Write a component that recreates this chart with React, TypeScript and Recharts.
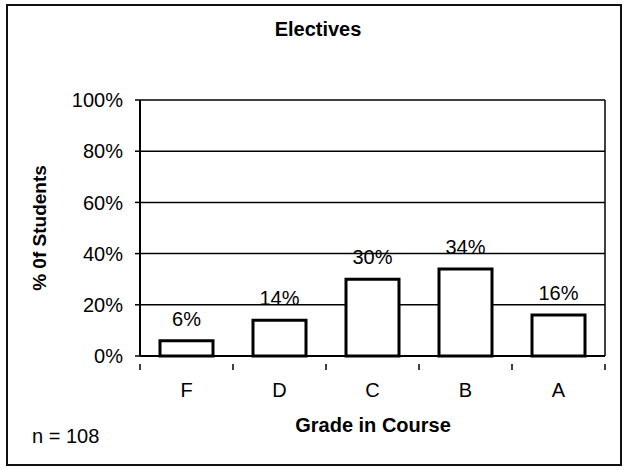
import { Bar, BarChart, CartesianGrid, LabelList, XAxis, YAxis } from "recharts";

const grades = ["F", "D", "C", "B", "A"];
const percentStudents = [6, 14, 30, 34, 16];
const yTicks = [0, 20, 40, 60, 80, 100];

const data = grades.map((grade, i) => ({ grade, pct: percentStudents[i] }));

const FONT = "Arial, 'Liberation Sans', sans-serif";
const W = 626;
const H = 470;
const PLOT_LEFT = 140;
const PLOT_RIGHT = 21;
const BAND = (W - PLOT_LEFT - PLOT_RIGHT) / grades.length;

// category label at band centre, tick marks on band boundaries
const GradeTick = (props: any) => {
  const { x, y, payload, index } = props;
  const left = x - BAND / 2;
  return (
    <g>
      <line x1={left} y1={y} x2={left} y2={y + 6} stroke="#000" strokeWidth={1.5} />
      {index === grades.length - 1 && (
        <line x1={x + BAND / 2} y1={y} x2={x + BAND / 2} y2={y + 6} stroke="#000" strokeWidth={1.5} />
      )}
      <text x={x} y={y + 33} textAnchor="middle" fontSize={20} fontFamily={FONT} fill="#000">
        {payload.value}
      </text>
    </g>
  );
};

export default function App() {
  return (
    <div style={{ position: "absolute", left: 0, top: 0, width: W, height: H, background: "#fff", fontFamily: FONT }}>
      <div
        style={{
          position: "absolute",
          left: 6,
          top: 4,
          width: 612,
          height: 458,
          border: "2px solid #111",
        }}
      />
      <div style={{ position: "absolute", left: 0, width: W, top: 18, textAlign: "center", paddingLeft: 10, boxSizing: "border-box", fontWeight: "bold", fontSize: 20 }}>
        Electives
      </div>
      <div
        style={{
          position: "absolute",
          left: 40,
          top: 228,
          transform: "translate(-50%, -50%) rotate(-90deg)",
          whiteSpace: "nowrap",
          fontWeight: "bold",
          fontSize: 19,
        }}
      >
        % 0f Students
      </div>
      <div style={{ position: "absolute", left: 373, top: 425, transform: "translate(-50%, -50%)", whiteSpace: "nowrap", fontWeight: "bold", fontSize: 20 }}>
        Grade in Course
      </div>
      <div style={{ position: "absolute", left: 32, top: 425, whiteSpace: "nowrap", fontSize: 20 }}>n = 108</div>
      <div style={{ position: "absolute", left: 0, top: 0 }}>
        <BarChart width={W} height={H} data={data} margin={{ top: 100, right: PLOT_RIGHT, left: 0, bottom: 0 }}>
          <CartesianGrid
            stroke="#000"
            strokeWidth={1.5}
            verticalCoordinatesGenerator={({ offset }: any) => [offset.left + offset.width]}
          />
          <XAxis
            dataKey="grade"
            height={114}
            axisLine={{ stroke: "#000", strokeWidth: 2 }}
            tickLine={false}
            tick={<GradeTick />}
            interval={0}
          />
          <YAxis
            domain={[0, 100]}
            ticks={yTicks}
            width={PLOT_LEFT}
            tickFormatter={(v) => `${v}%`}
            axisLine={{ stroke: "#000", strokeWidth: 2 }}
            tickLine={{ stroke: "#000", strokeWidth: 1.5 }}
            tickSize={5}
            tickMargin={12}
            tick={{ fill: "#000", fontSize: 20, fontFamily: FONT }}
          />
          <Bar dataKey="pct" fill="#fff" stroke="#000" strokeWidth={3} barSize={53} isAnimationActive={false}>
            <LabelList
              dataKey="pct"
              position="top"
              offset={15}
              formatter={(v: any) => `${v}%`}
              fill="#000"
              fontSize={20}
              fontFamily={FONT}
            />
          </Bar>
        </BarChart>
      </div>
    </div>
  );
}
